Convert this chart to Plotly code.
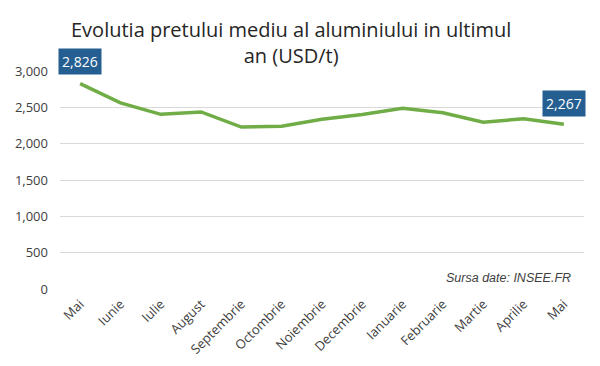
import plotly.graph_objects as go

months = ["Mai", "Iunie", "Iulie", "August", "Septembrie", "Octombrie", "Noiembrie",
          "Decembrie", "Ianuarie", "Februarie", "Martie", "Aprilie", "Mai"]
prices = [2826, 2562, 2404, 2436, 2229, 2239, 2335, 2402, 2487, 2426, 2294, 2344, 2267]
yticks = [0, 500, 1000, 1500, 2000, 2500, 3000]

xs = list(range(len(months)))

fig = go.Figure()
fig.add_trace(go.Scatter(x=xs, y=prices, mode="lines",
                         line=dict(color="#70AD47", width=3.5), hoverinfo="skip"))

for i in (0, len(prices) - 1):
    fig.add_annotation(x=xs[i], y=prices[i], text=f"{prices[i]:,}", showarrow=False,
                       yshift=22 if i == 0 else 21,
                       bgcolor="#255E91", font=dict(color="white", size=14, family="Open Sans"),
                       borderpad=3)

fig.add_annotation(x=1, xref="paper", y=0.0, yref="paper", xanchor="right", yanchor="bottom",
                   text="<i>Sursa date: INSEE.FR</i>", showarrow=False, xshift=-11, yshift=2,
                   font=dict(size=12.5, color="#404040", family="Liberation Sans"))

fig.add_annotation(x=0.5, xref="paper", y=1, yref="paper", yanchor="bottom",
                   xanchor="center", xshift=-31, yshift=0,
                   text="Evolutia pretului mediu al aluminiului in ultimul<br>an (USD/t)",
                   showarrow=False, align="center",
                   font=dict(size=20, color="#262626", family="Open Sans"))

fig.update_layout(
    width=600, height=366,
    paper_bgcolor="white", plot_bgcolor="white",
    margin=dict(l=60, r=16, t=71, b=77),
    showlegend=False,
    xaxis=dict(range=[-0.5, 12.5], tickmode="array", tickvals=xs, ticktext=months,
               tickangle=-45, showgrid=False, zeroline=False, showline=False,
               automargin=False, ticklabelstandoff=4,
               tickfont=dict(size=13, color="#404040", family="Open Sans")),
    yaxis=dict(range=[0, 3000], tickvals=yticks, tickformat=",", showgrid=True,
               gridcolor="#D9D9D9", gridwidth=1, zeroline=False, showline=False,
               ticks="", ticklabelstandoff=11, automargin=False,
               tickfont=dict(size=13, color="#404040", family="Open Sans")),
)

fig.write_html("out.html", post_script="document.body.style.margin='0';",
               config={"displayModeBar": False})
